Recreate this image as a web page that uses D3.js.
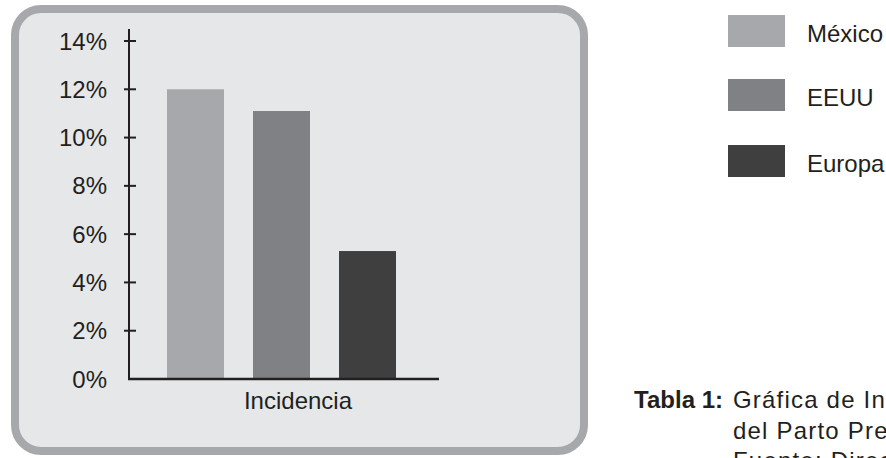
<!DOCTYPE html>
<html>
<head>
<meta charset="utf-8">
<script src="https://cdn.jsdelivr.net/npm/d3@7"></script>
<style>
  html, body { margin: 0; padding: 0; background: #ffffff; }
  svg { display: block; font-family: "Liberation Sans", Arial, sans-serif; }
</style>
</head>
<body>
<svg id="chart" width="886" height="458"></svg>
<script>
// Incidencia del parto prematuro por región
const categories = ["México", "EEUU", "Europa"];
const values = [12.0, 11.1, 5.3];
const colors = ["#a7a8ab", "#808184", "#3f3f40"];
const yTicks = [0, 2, 4, 6, 8, 10, 12, 14];
const xLabel = "Incidencia";
const captionTitle = "Tabla 1:";
const captionLines = ["Gráfica de Incidencia", "del Parto Prematuro", "Fuente: Directa"];

const svg = d3.select("#chart");
const ink = "#231f20";

// Rounded grey panel behind the plot
svg.append("rect")
  .attr("x", 15).attr("y", 9)
  .attr("width", 569).attr("height", 442)
  .attr("rx", 26).attr("ry", 26)
  .attr("fill", "#e6e7e8")
  .attr("stroke", "#a7a8ab")
  .attr("stroke-width", 8);

const plot = { left: 129, right: 439, top: 29 };

const y = d3.scaleLinear().domain([0, 14]).range([379, 41]);
const x = d3.scaleBand()
  .domain(categories)
  .range([129, 434])
  .paddingInner(0.3372)
  .paddingOuter(0.4419);

// Bars
svg.append("g").selectAll("rect")
  .data(categories)
  .join("rect")
  .attr("x", d => x(d))
  .attr("width", x.bandwidth())
  .attr("y", (d, i) => y(values[i]))
  .attr("height", (d, i) => y(0) - y(values[i]))
  .attr("fill", (d, i) => colors[i]);

// Y axis: line with ticks crossing it
const yAxis = svg.append("g");
yAxis.append("line")
  .attr("x1", plot.left).attr("x2", plot.left)
  .attr("y1", plot.top).attr("y2", y(0) + 1)
  .attr("stroke", ink).attr("stroke-width", 2);
yAxis.selectAll("line.tick")
  .data(yTicks.filter(t => t > 0))
  .join("line")
  .attr("class", "tick")
  .attr("x1", plot.left - 5).attr("x2", plot.left + 7)
  .attr("y1", d => y(d)).attr("y2", d => y(d))
  .attr("stroke", ink).attr("stroke-width", 2);
yAxis.selectAll("text")
  .data(yTicks)
  .join("text")
  .attr("x", 107)
  .attr("y", d => y(d) + 8.5)
  .attr("text-anchor", "end")
  .attr("font-size", 24)
  .attr("fill", ink)
  .text(d => d + "%");

// X axis baseline
svg.append("line")
  .attr("x1", plot.left - 1).attr("x2", plot.right)
  .attr("y1", y(0)).attr("y2", y(0))
  .attr("stroke", ink).attr("stroke-width", 2.5);

svg.append("text")
  .attr("x", 298).attr("y", 409)
  .attr("text-anchor", "middle")
  .attr("font-size", 24)
  .attr("fill", ink)
  .text(xLabel);

// Legend
const legend = svg.append("g").selectAll("g")
  .data(categories)
  .join("g")
  .attr("transform", (d, i) => `translate(728, ${[15, 79, 145][i]})`);
legend.append("rect")
  .attr("width", 57).attr("height", 32)
  .attr("fill", (d, i) => colors[i]);
legend.append("text")
  .attr("x", 79).attr("y", 27)
  .attr("font-size", 24)
  .attr("fill", ink)
  .text(d => d);

// Caption
const cap = svg.append("g");
cap.append("text")
  .attr("x", 723).attr("y", 408)
  .attr("text-anchor", "end")
  .attr("font-size", 24)
  .attr("font-weight", "bold")
  .attr("fill", ink)
  .text(captionTitle);
cap.selectAll("text.line")
  .data(captionLines)
  .join("text")
  .attr("class", "line")
  .attr("x", 733)
  .attr("y", (d, i) => 408 + i * 30.5)
  .attr("font-size", 24)
  .attr("letter-spacing", 1.2)
  .attr("fill", ink)
  .text(d => d);
</script>
</body>
</html>
